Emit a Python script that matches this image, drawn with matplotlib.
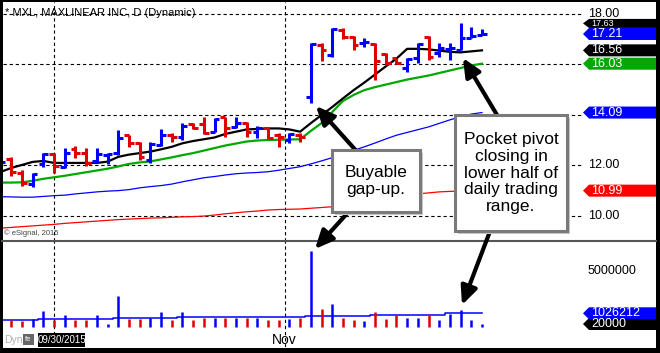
import numpy as np
import matplotlib.pyplot as plt
from matplotlib.patches import Polygon, Rectangle

plt.rcParams['font.family'] = ['Liberation Sans', 'DejaVu Sans']

# daily OHLC, one entry per bar (bar 0 sits half off the left edge)
opens = [11.95, 12.26, 11.68, 11.25, 12.05, 12.44, 11.92, 12.63, 12.47, 12.18,
         12.40, 12.47, 13.18, 12.87, 12.21, 12.80, 13.20, 13.10, 13.62, 13.63,
         13.33, 13.90, 13.50, 13.66, 13.33, 13.46, 13.20, 13.00, 13.20, 14.72,
         16.77, 16.37, 17.37, 17.10, 16.84, 16.82, 16.42, 16.24, 15.85, 16.24,
         17.10, 16.44, 16.62, 16.57, 17.06, 17.18]
highs = [12.30, 12.31, 11.81, 11.68, 12.47, 12.50, 12.67, 12.76, 12.67, 12.67,
         12.50, 13.40, 13.20, 12.93, 12.93, 13.44, 13.27, 13.69, 13.69, 13.90,
         13.86, 13.93, 13.93, 13.73, 13.56, 13.53, 13.29, 13.27, 13.27, 16.84,
         16.84, 17.43, 17.43, 17.13, 17.04, 16.84, 16.45, 16.27, 16.24, 16.84,
         17.14, 16.84, 16.84, 17.63, 17.50, 17.40]
lows = [11.90, 11.57, 11.17, 11.15, 11.92, 11.70, 11.88, 12.30, 11.97, 12.07,
        12.05, 12.40, 12.73, 12.21, 12.07, 12.75, 12.93, 13.00, 13.42, 13.25,
        13.31, 13.13, 13.46, 13.13, 13.07, 13.03, 12.71, 12.87, 12.93, 14.46,
        16.15, 16.31, 17.00, 16.57, 16.70, 15.38, 15.98, 16.00, 15.71, 16.04,
        16.17, 16.31, 16.17, 16.57, 17.04, 17.15]
closes = [12.14, 11.72, 11.31, 11.65, 12.45, 11.97, 12.50, 12.47, 12.07, 12.43,
          12.44, 13.07, 12.89, 12.31, 12.83, 13.20, 13.11, 13.57, 13.48, 13.27,
          13.84, 13.46, 13.69, 13.33, 13.46, 13.07, 13.11, 13.24, 13.11, 16.82,
          16.57, 17.39, 17.10, 16.77, 16.90, 16.15, 16.05, 16.07, 16.22, 16.80,
          16.31, 16.64, 16.66, 17.04, 17.14, 17.21]

# volume in millions of shares
volume = [0.60, 0.42, 0.30, 0.52, 1.21, 0.42, 0.84, 0.42, 0.42, 0.84,
          0.05, 2.62, 0.52, 0.52, 0.61, 1.15, 0.42, 1.15, 0.42, 0.61,
          0.61, 0.61, 0.61, 0.61, 0.61, 0.42, 0.42, 0.52, 0.61, 6.88,
          1.46, 1.93, 0.61, 0.42, 0.30, 1.15, 0.52, 0.84, 0.61, 0.61,
          0.84, 0.42, 0.99, 1.31, 0.42, 0.02]
vol_avg = [0.38, 0.38, 0.38, 0.38, 0.47, 0.47, 0.47, 0.47, 0.47, 0.47,
           0.47, 0.56, 0.56, 0.56, 0.56, 0.56, 0.56, 0.65, 0.65, 0.65,
           0.65, 0.65, 0.65, 0.65, 0.65, 0.65, 0.65, 0.65, 0.65, 0.77,
           0.77, 0.77, 0.77, 0.77, 0.77, 0.86, 0.86, 0.86, 0.86, 0.86,
           0.86, 0.86, 1.026212, 1.026212, 1.026212, 1.026212]

# moving averages as shown by the chart
ma_black = [11.73, 11.89, 12.01, 12.13, 12.17, 12.09, 12.09, 12.09, 12.09, 12.09,
            12.14, 12.33, 12.42, 12.48, 12.54, 12.63, 12.73, 12.87, 12.96, 13.03,
            13.10, 13.24, 13.33, 13.42, 13.44, 13.46, 13.46, 13.42, 13.33, 13.67,
            13.99, 14.31, 14.65, 14.98, 15.28, 15.60, 15.92, 16.23, 16.62, 16.62,
            16.60, 16.55, 16.50, 16.48, 16.52, 16.56]
ma_green = [11.31, 11.31, 11.32, 11.38, 11.46, 11.52, 11.58, 11.65, 11.72, 11.79,
            11.86, 11.95, 12.05, 12.11, 12.15, 12.23, 12.31, 12.40, 12.48, 12.58,
            12.68, 12.78, 12.86, 12.94, 12.98, 13.00, 13.01, 13.02, 13.03, 13.36,
            13.67, 14.11, 14.55, 14.79, 14.98, 15.10, 15.20, 15.30, 15.40, 15.48,
            15.56, 15.66, 15.76, 15.86, 15.96, 16.03]
ma_blue = [10.75, 10.74, 10.73, 10.73, 10.76, 10.79, 10.81, 10.86, 10.90, 10.94,
           10.97, 10.99, 11.03, 11.10, 11.15, 11.19, 11.25, 11.34, 11.42, 11.50,
           11.55, 11.61, 11.66, 11.69, 11.71, 11.74, 11.80, 11.87, 11.94, 12.05,
           12.17, 12.30, 12.45, 12.59, 12.73, 12.88, 13.04, 13.19, 13.30, 13.41,
           13.52, 13.66, 13.80, 13.92, 14.03, 14.09]
ma_red = [9.50, 9.53, 9.56, 9.59, 9.62, 9.65, 9.69, 9.72, 9.75, 9.78,
          9.81, 9.84, 9.86, 9.88, 9.90, 9.91, 9.93, 9.95, 9.96, 9.98,
          10.02, 10.07, 10.11, 10.15, 10.18, 10.22, 10.24, 10.25, 10.26, 10.29,
          10.32, 10.35, 10.44, 10.53, 10.61, 10.66, 10.71, 10.77, 10.81, 10.86,
          10.90, 10.94, 10.96, 10.97, 10.98, 10.99]

price_labels = [18, 12, 10]
price_grid = [10, 12, 14, 16, 18]
cursor_bar = 5
nov_bar = 26.55

BLUE = '#0000ff'
RED = '#e00000'
GREEN = '#00a800'

W, H = 660, 353
fig = plt.figure(figsize=(W / 100, H / 100), dpi=100)


def frect(x0, y0, x1, y1):
    # pixel box with top-left origin -> figure fraction rect
    return [x0 / W, 1 - y1 / H, (x1 - x0) / W, (y1 - y0) / H]


ax = fig.add_axes(frect(3, 2, 583, 241))
axv = fig.add_axes(frect(3, 241, 583, 347))
for a in (ax, axv):
    a.set_xlim(0.23, 54.44)
    a.axis('off')
ax.set_ylim(8.99, 18.48)
axv.set_ylim(-2.14, 7.82)
vol_floor = -0.26

x = np.arange(len(closes))
up = np.array(closes) >= np.array(opens)
colors = np.where(up, BLUE, RED)

# grid
for p in price_grid:
    ax.axhline(p, color='black', lw=0.8, ls=(0, (3, 2.5)), zorder=1)
for a in (ax, axv):
    for b in (cursor_bar, nov_bar):
        a.axvline(b, color='black', lw=0.8, ls=(0, (3, 2.5)), zorder=1)

# moving averages
ax.plot(x, ma_red, color='#ff0000', lw=0.9, zorder=2)
ax.plot(x, ma_blue, color=BLUE, lw=0.9, zorder=2)
ax.plot(x, ma_green, color=GREEN, lw=1.6, zorder=2)
ax.plot(x, ma_black, color='black', lw=1.6, zorder=2)

# OHLC bars
ax.vlines(x, lows, highs, colors=colors, lw=2.2, zorder=3)
ax.hlines(opens, x - 0.45, x, colors=colors, lw=2.2, zorder=3)
ax.hlines(closes, x, x + 0.45, colors=colors, lw=2.2, zorder=3)

# volume
axv.vlines(x, vol_floor, volume, colors=colors, lw=1.8, zorder=3)
axv.step(x, vol_avg, where='mid', color=BLUE, lw=1.1, zorder=2)

# overlay in pixel coordinates for labels, tags and callouts
ov = fig.add_axes([0, 0, 1, 1], zorder=10)
ov.set_xlim(0, W)
ov.set_ylim(H, 0)
ov.axis('off')


def ypix(axis, val):
    return H - axis.transData.transform((0, val))[1]


def xpix(axis, val):
    return axis.transData.transform((val, 0))[0]


def tag(y, text, color, fs=9, h=12):
    pts = [(583, y), (589, y - h / 2), (656, y - h / 2), (656, y + h / 2), (589, y + h / 2)]
    ov.add_patch(Polygon(pts, closed=True, facecolor=color, edgecolor='none'))
    ov.text(591, y, text, color='white', fontsize=fs, va='center', ha='left')


for p in price_labels:
    ov.text(588, ypix(ax, p), f'{p:.2f}', fontsize=9, va='center')
ov.text(588, ypix(axv, 5), '5000000', fontsize=9, va='center')

tag(ypix(ax, max(highs)), f'{max(highs):.2f}', 'black', fs=6.5, h=9)
tag(ypix(ax, closes[-1]), f'{closes[-1]:.2f}', BLUE)
tag(ypix(ax, ma_black[-1]), f'{ma_black[-1]:.2f}', 'black')
tag(ypix(ax, ma_green[-1]), f'{ma_green[-1]:.2f}', GREEN)
tag(ypix(ax, ma_blue[-1]), f'{ma_blue[-1]:.2f}', BLUE)
tag(ypix(ax, ma_red[-1]), f'{ma_red[-1]:.2f}', '#ff0000')
tag(ypix(axv, volume[-1]), f'{volume[-1] * 1e6:.0f}', 'black')
tag(ypix(axv, vol_avg[-1]), f'{vol_avg[-1] * 1e6:.0f}', BLUE)

# header / footer texts
ov.text(5, 13, '* MXL, MAXLINEAR INC, D (Dynamic)', fontsize=8, va='center')
ov.text(4, 233, '\u00a9 eSignal, 2015', fontsize=5.5, color='#444444', va='center')
ov.plot([2, 656], [241, 241], color='#555555', lw=1.5)
ov.text(4, 340, 'Dyn', fontsize=7.5, color='#b0b0b0', va='center')
ov.add_patch(Rectangle((23, 334), 11, 11, fc='#666666', ec='none'))
ov.text(28.5, 339.5, 'fe', fontsize=5.5, color='white', ha='center', va='center')
ov.add_patch(Rectangle((38, 333), 47, 14, fc='black', ec='none'))
ov.text(61.5, 340, '09/30/2015', fontsize=7, color='white', ha='center', va='center')
ov.text(xpix(axv, nov_bar), 340, 'Nov', fontsize=10, ha='center', va='center')

# borders
ov.add_patch(Rectangle((0, 0), W, 2, fc='black', ec='none'))
ov.add_patch(Rectangle((0, 0), 2.5, H, fc='black', ec='none'))
ov.add_patch(Rectangle((656, 0), 4, H, fc='black', ec='none'))
ov.add_patch(Rectangle((0, 347.5), W, 6, fc='black', ec='none'))

# arrows
arrow = dict(arrowstyle='-|>,head_length=1.1,head_width=0.5', lw=3, color='black',
             shrinkA=0, shrinkB=0, mutation_scale=10)
for start, tip in [((360, 155), (316, 106)), ((352, 208), (315, 249)),
                   ((500, 120), (463, 58)), ((492, 226), (462, 305))]:
    ov.annotate('', xy=tip, xytext=start, arrowprops=arrow, annotation_clip=False)


def callout(x0, y0, x1, y1, text):
    ov.add_patch(Rectangle((x0 + 3, y0 + 3), x1 - x0, y1 - y0, fc='#c8c8c8', ec='none', zorder=5))
    ov.add_patch(Rectangle((x0, y0), x1 - x0, y1 - y0, fc='white', ec='#7a7a7a', lw=2.2, zorder=6))
    ov.text((x0 + x1) / 2, (y0 + y1) / 2, text, ha='center', va='center', fontsize=12.5,
            linespacing=1.15, zorder=7)


callout(332, 150, 420, 212, 'Buyable\ngap-up.')
callout(455, 115, 567, 231, 'Pocket pivot\nclosing in\nlower half of\ndaily trading\nrange.')

fig.savefig('out.png', dpi=100, facecolor='white')
